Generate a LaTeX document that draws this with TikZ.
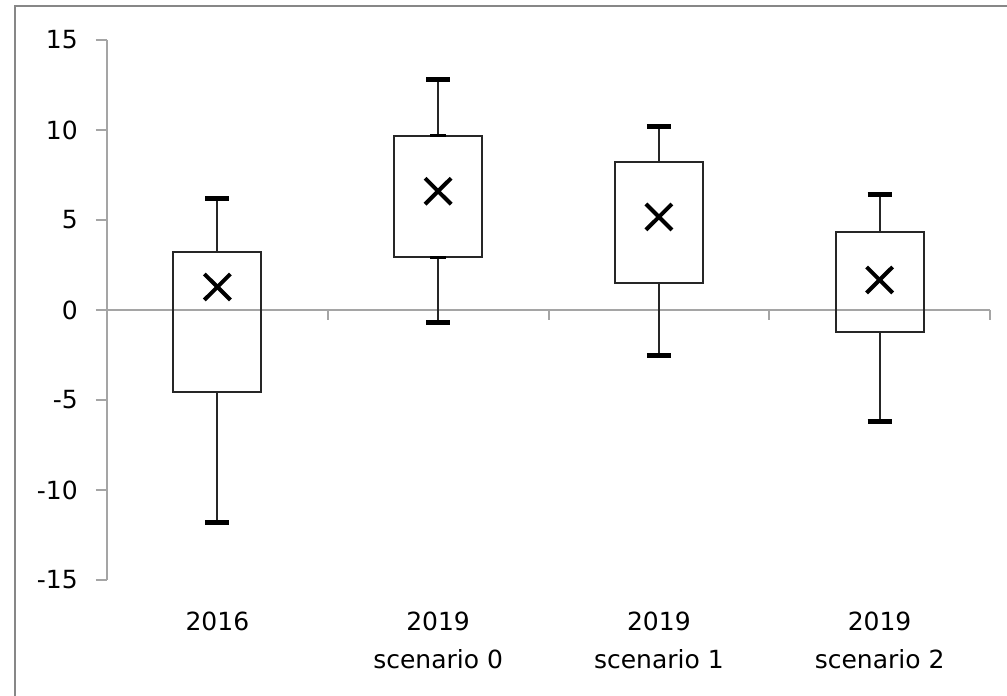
\documentclass[tikz,border=0pt]{standalone}
\usepackage{fontspec}
\setmainfont{DejaVu Sans}
\definecolor{axisgray}{RGB}{165,165,165}
\definecolor{framegray}{RGB}{135,135,135}
\tikzset{
    axisline/.style={axisgray, line width=2pt},
    boxline/.style={black!85, line width=2pt},
    capline/.style={black, line width=5pt},
    meanline/.style={black, line width=4pt},
    ticklabel/.style={anchor=east, inner sep=0pt, font=\fontsize{25}{30}\selectfont, text=black},
    catlabel/.style={anchor=north, inner sep=0pt, align=center, font=\fontsize{25}{38}\selectfont, text=black}
}
\begin{document}
\begin{tikzpicture}[x=1pt, y=18pt]
\useasboundingbox (-107,-21.444) rectangle (900,17.222);
\fill[white] (-107,-21.444) rectangle (900,17.222);
% frame of the chart area
\draw[framegray, line width=2.5pt] (-92,-21.444) -- (-92,16.889) -- (900,16.889);
% axes
\draw[axisline] (0,15) -- (0,-15);
\foreach \v/\t in {15/15, 10/10, 5/5, 0/0, -5/-5, -10/-10, -15/-15} {
    \draw[axisline] (-11,\v) -- (0,\v);
    \node[ticklabel] (tick\t) at (-29,\v) {\t};
}
\draw[axisline] (0,0) -- (883,0);
\foreach \x in {220.75, 441.5, 662.25, 883}
    \draw[axisline] (\x,0) -- (\x,-0.56);
% boxes: centre/min/q1/q3/max/mean
\foreach \c/\lo/\qa/\qb/\hi/\m in {110.4/-11.8/-4.55/3.2/6.17/1.28,
                                     331.1/-0.67/2.94/9.67/12.8/6.6,
                                     551.9/-2.55/1.5/8.2/10.2/5.17,
                                     772.6/-6.17/-1.22/4.33/6.44/1.67} {
    \draw[boxline] (\c,\lo) -- (\c,\qa);
    \draw[boxline] (\c,\qb) -- (\c,\hi);
    \draw[capline] (\c-12,\lo) -- (\c+12,\lo);
    \draw[capline] (\c-12,\hi) -- (\c+12,\hi);
    \draw[boxline] (\c-44,\qa) rectangle (\c+44,\qb);
    \draw[meanline] (\c-13,\m-0.72) -- (\c+13,\m+0.72);
    \draw[meanline] (\c-13,\m+0.72) -- (\c+13,\m-0.72);
}
% short caps showing at box edges of scenario 0
\draw[black, line width=3pt] (323,9.67) -- (339,9.67);
\draw[black, line width=3pt] (323,2.94) -- (339,2.94);
% category labels
\node[catlabel] (lab2016) at (110.4,-16.78) {2016};
\node[catlabel] (labsc0) at (331.1,-16.78) {2019\\scenario 0};
\node[catlabel] (labsc1) at (551.9,-16.78) {2019\\scenario 1};
\node[catlabel] (labsc2) at (772.6,-16.78) {2019\\scenario 2};
\end{tikzpicture}
\end{document}
